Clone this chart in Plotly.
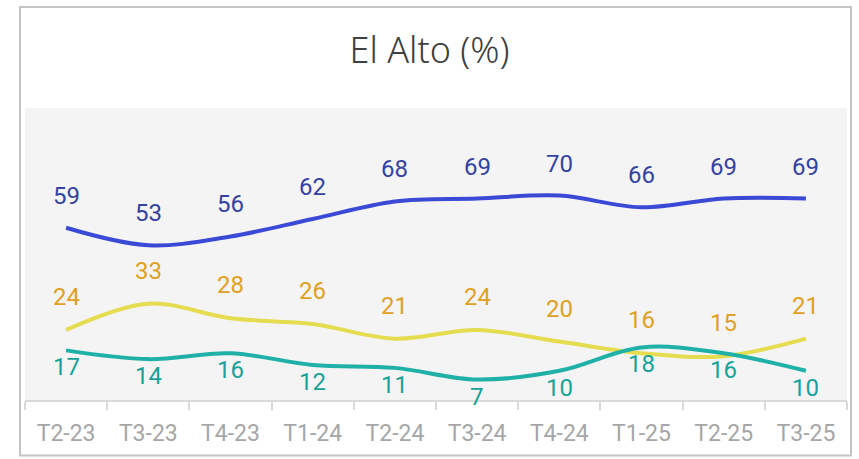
import plotly.graph_objects as go

categories = ["T2-23", "T3-23", "T4-23", "T1-24", "T2-24", "T3-24", "T4-24", "T1-25", "T2-25", "T3-25"]
blue_vals = [59, 53, 56, 62, 68, 69, 70, 66, 69, 69]
yellow_vals = [24, 33, 28, 26, 21, 24, 20, 16, 15, 21]
teal_vals = [17, 14, 16, 12, 11, 7, 10, 18, 16, 10]

series = [
    (blue_vals, "#3a4ad6", "#33439f", 32),
    (yellow_vals, "#e6dc50", "#e0a024", 33),
    (teal_vals, "#1fb0a7", "#17a299", -17),
]

fig = go.Figure()
annotations = []
for vals, lc, tc, shift in series:
    fig.add_trace(go.Scatter(
        x=categories, y=vals, mode="lines",
        line=dict(color=lc, width=4, shape="spline", smoothing=1),
        hoverinfo="skip", showlegend=False,
    ))
    for c, v in zip(categories, vals):
        annotations.append(dict(
            x=c, y=v, xref="x", yref="y", text=str(v), showarrow=False,
            yshift=shift, font=dict(family="Roboto", size=24, color=tc),
            xanchor="center", yanchor="middle",
        ))

W, H = 859, 459
L, R, T, B = 25, 12, 108, 56
pw, ph = W - L - R, H - T - B

def px_x(x):
    return (x - L) / pw

def px_y(y):
    return (H - B - y) / ph

fig.update_layout(
    width=W, height=H,
    margin=dict(l=L, r=R, t=T, b=B),
    paper_bgcolor="white",
    plot_bgcolor="#f4f4f4",
    title=dict(text="El Alto (%)", x=0.5, xanchor="center", xref="container",
               y=1 - 50 / H, yanchor="middle", yref="container",
               font=dict(family="Noto Sans", size=36, color="#404040", weight=300)),
    xaxis=dict(
        type="category", tickson="boundaries", showgrid=False,
        showline=True, linecolor="#d9d9d9", linewidth=2,
        ticks="outside", ticklen=8, tickwidth=2, tickcolor="#d9d9d9",
        ticklabelstandoff=11,
        tickfont=dict(family="Roboto", size=23, color="#a6a6a6"),
        range=[-0.5, 9.5], zeroline=False, fixedrange=True,
    ),
    yaxis=dict(range=[0, 100], visible=False, showgrid=False, zeroline=False),
    annotations=annotations,
    shapes=[dict(
        type="rect", xref="paper", yref="paper",
        x0=px_x(20), x1=px_x(851), y0=px_y(459), y1=px_y(6),
        line=dict(color="#c4c4c4", width=2), fillcolor="rgba(0,0,0,0)", layer="below",
    )],
)

fig.write_html("out.html", config={"displayModeBar": False},
               post_script="document.body.style.margin='0';")
